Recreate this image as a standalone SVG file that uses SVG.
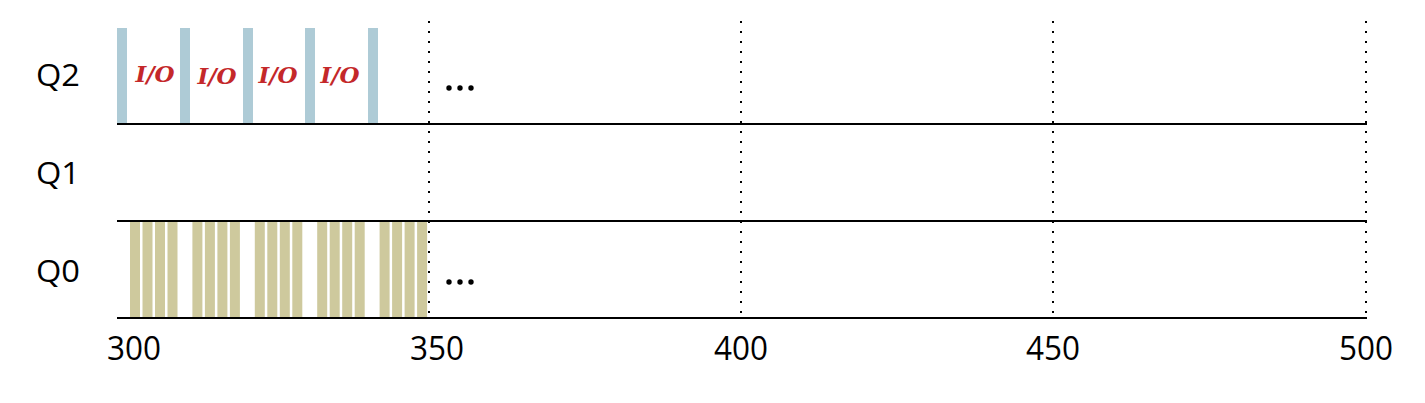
<svg xmlns="http://www.w3.org/2000/svg" width="1425" height="403" viewBox="0 0 1425 403">
<style>
.lbl{font-family:"Open Sans","Noto Sans",sans-serif;font-size:31px;fill:#000}
.ax{font-family:"Open Sans","Noto Sans",sans-serif;font-size:32px;fill:#000;text-anchor:middle}
.io{font-family:"DejaVu Serif","Liberation Serif",serif;font-size:23px;font-style:italic;font-weight:bold;fill:#c4282a;text-anchor:middle}
.blue{fill:#aecbd6}
.tan{fill:#cec99d}
.axis{stroke:#000;stroke-width:2.2}
.dot{stroke:#000;stroke-width:2;stroke-dasharray:2 8}
.ell{fill:#000}
</style>
<rect width="1425" height="403" fill="#fff"/>
<g id="labels">
<text class="lbl" x="36" y="86" textLength="44" lengthAdjust="spacingAndGlyphs">Q2</text>
<text class="lbl" x="36" y="184" textLength="44" lengthAdjust="spacingAndGlyphs">Q1</text>
<text class="lbl" x="36" y="282" textLength="44" lengthAdjust="spacingAndGlyphs">Q0</text>
</g>
<g id="q2-bars">
<rect class="blue" x="117" y="28" width="10" height="96"/>
<rect class="blue" x="180" y="28" width="10" height="96"/>
<rect class="blue" x="243" y="28" width="10" height="96"/>
<rect class="blue" x="305" y="28" width="10" height="96"/>
<rect class="blue" x="368" y="28" width="10" height="96"/>
<text class="io" x="155" y="82">I/O</text>
<text class="io" x="217" y="84">I/O</text>
<text class="io" x="278" y="83">I/O</text>
<text class="io" x="340" y="83">I/O</text>
</g>
<g id="q0-bars">
<rect class="tan" x="130" y="222" width="10" height="95"/>
<rect class="tan" x="142.5" y="222" width="10" height="95"/>
<rect class="tan" x="155" y="222" width="10" height="95"/>
<rect class="tan" x="167.5" y="222" width="10" height="95"/>
<rect class="tan" x="192.4" y="222" width="10" height="95"/>
<rect class="tan" x="204.9" y="222" width="10" height="95"/>
<rect class="tan" x="217.4" y="222" width="10" height="95"/>
<rect class="tan" x="229.9" y="222" width="10" height="95"/>
<rect class="tan" x="254.8" y="222" width="10" height="95"/>
<rect class="tan" x="267.3" y="222" width="10" height="95"/>
<rect class="tan" x="279.8" y="222" width="10" height="95"/>
<rect class="tan" x="292.3" y="222" width="10" height="95"/>
<rect class="tan" x="317.2" y="222" width="10" height="95"/>
<rect class="tan" x="329.7" y="222" width="10" height="95"/>
<rect class="tan" x="342.2" y="222" width="10" height="95"/>
<rect class="tan" x="354.7" y="222" width="10" height="95"/>
<rect class="tan" x="379.6" y="222" width="10" height="95"/>
<rect class="tan" x="392.1" y="222" width="10" height="95"/>
<rect class="tan" x="404.6" y="222" width="10" height="95"/>
<rect class="tan" x="417.1" y="222" width="10" height="95"/>
</g>
<g id="grid">
<line class="dot" x1="429" y1="21" x2="429" y2="318"/>
<line class="dot" x1="741" y1="21" x2="741" y2="318"/>
<line class="dot" x1="1053" y1="21" x2="1053" y2="318"/>
<line class="dot" x1="1366" y1="21" x2="1366" y2="318"/>
</g>
<g id="axes">
<line class="axis" x1="117" y1="124" x2="1367" y2="124"/>
<line class="axis" x1="117" y1="221" x2="1367" y2="221"/>
<line class="axis" x1="117" y1="318" x2="1367" y2="318"/>
</g>
<g id="ellipses">
<circle class="ell" cx="449" cy="88" r="2.7"/>
<circle class="ell" cx="460" cy="88" r="2.7"/>
<circle class="ell" cx="471" cy="88" r="2.7"/>
<circle class="ell" cx="449" cy="282" r="2.7"/>
<circle class="ell" cx="460" cy="282" r="2.7"/>
<circle class="ell" cx="471" cy="282" r="2.7"/>
</g>
<g id="ticks">
<text class="ax" x="134" y="360" textLength="54" lengthAdjust="spacingAndGlyphs">300</text>
<text class="ax" x="437" y="360" textLength="54" lengthAdjust="spacingAndGlyphs">350</text>
<text class="ax" x="741" y="360" textLength="54" lengthAdjust="spacingAndGlyphs">400</text>
<text class="ax" x="1053" y="360" textLength="54" lengthAdjust="spacingAndGlyphs">450</text>
<text class="ax" x="1366" y="360" textLength="54" lengthAdjust="spacingAndGlyphs">500</text>
</g>
</svg>
